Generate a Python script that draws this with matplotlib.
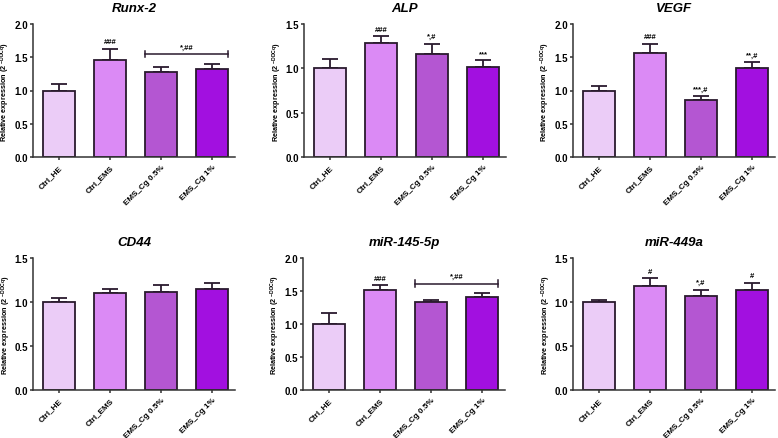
import matplotlib
matplotlib.use("Agg")
import matplotlib.pyplot as plt
import numpy as np

plt.rcParams['font.family'] = ['Liberation Sans', 'DejaVu Sans']
plt.rcParams['font.weight'] = 'bold'
plt.rcParams['mathtext.fontset'] = 'custom'
plt.rcParams['mathtext.rm'] = 'Liberation Sans:bold'
plt.rcParams['mathtext.it'] = 'Liberation Sans:bold'
plt.rcParams['mathtext.bf'] = 'Liberation Sans:bold'
plt.rcParams['mathtext.default'] = 'rm'

groups = ["Ctrl_HE", "Ctrl_EMS", "EMS_Cg 0.5%", "EMS_Cg 1%"]
colors = ["#EBCCF7", "#DB8AF5", "#B456D2", "#A210E0"]

titles = ["Runx-2", "ALP", "VEGF", "CD44", "miR-145-5p", "miR-449a"]
ymax = [2.0, 1.5, 2.0, 1.5, 2.0, 1.5]

runx2_mean = [1.00, 1.46, 1.28, 1.32]
runx2_err = [0.10, 0.17, 0.07, 0.08]
runx2_sig = ["", "###", "", ""]

alp_mean = [1.00, 1.29, 1.16, 1.02]
alp_err = [0.10, 0.07, 0.12, 0.07]
alp_sig = ["", "###", "*,#", "***"]

vegf_mean = [1.00, 1.57, 0.86, 1.34]
vegf_err = [0.07, 0.13, 0.05, 0.09]
vegf_sig = ["", "###", "***,#", "**,#"]

cd44_mean = [1.00, 1.10, 1.11, 1.15]
cd44_err = [0.04, 0.05, 0.08, 0.07]
cd44_sig = ["", "", "", ""]

mir145_mean = [1.00, 1.51, 1.33, 1.41]
mir145_err = [0.17, 0.08, 0.04, 0.06]
mir145_sig = ["", "###", "", ""]

mir449_mean = [1.00, 1.18, 1.07, 1.14]
mir449_err = [0.02, 0.09, 0.07, 0.08]
mir449_sig = ["", "#", "*,#", "#"]

# bracket annotations: (panel index, label, y level)
bracket_panels = [0, 4]
bracket_labels = ["*,##", "*,##"]
bracket_levels = [1.55, 1.61]

means = [runx2_mean, alp_mean, vegf_mean, cd44_mean, mir145_mean, mir449_mean]
errs = [runx2_err, alp_err, vegf_err, cd44_err, mir145_err, mir449_err]
sigs = [runx2_sig, alp_sig, vegf_sig, cd44_sig, mir145_sig, mir449_sig]

W, H = 778, 439
fig = plt.figure(figsize=(W / 100, H / 100), dpi=100)

lefts = [33, 304, 573, 33, 303, 573]
tops = [25, 25, 25, 259, 259, 259]
bottoms = [158, 158, 158, 391, 391, 391]
axw = 202

edge = "#2a1a2e"
x = np.arange(len(groups))
bw = 0.63

for i in range(6):
    ax = fig.add_axes([lefts[i] / W, 1 - bottoms[i] / H, axw / W, (bottoms[i] - tops[i]) / H])
    ax.bar(x, means[i], width=bw, color=colors, edgecolor=edge, linewidth=1.3, zorder=2)
    ax.errorbar(x, means[i], yerr=[np.zeros(4), errs[i]], fmt='none', ecolor=edge,
                elinewidth=1.3, capsize=5.5, capthick=1.3, zorder=1)
    ax.set_xlim(-0.51, 3.45)
    ax.set_ylim(0, ymax[i])
    ax.set_yticks(np.arange(0, ymax[i] + 0.01, 0.5))
    ax.set_yticklabels([f"{v:.1f}" for v in np.arange(0, ymax[i] + 0.01, 0.5)], fontsize=7, fontweight='bold')
    ax.set_xticks(x)
    ax.set_xticklabels(groups, rotation=45, ha='right', rotation_mode='anchor', fontsize=5.9, fontweight='bold')
    for s in ['top', 'right']:
        ax.spines[s].set_visible(False)
    for s in ['left', 'bottom']:
        ax.spines[s].set_linewidth(1.1)
        ax.spines[s].set_color('#333333')
    ax.tick_params(axis='y', length=2.5, width=1.1, color='#333333', pad=1)
    ax.tick_params(axis='x', length=2.5, width=1.1, color='#333333', pad=2)
    ax.set_title(titles[i], fontsize=9.5, fontweight='bold', fontstyle='italic', pad=9)
    ax.set_ylabel(r"Relative expression (2 $^{-DDCq}$)", fontsize=5.2, fontweight='bold', labelpad=1.5)
    for j in range(4):
        if sigs[i][j]:
            ax.annotate(sigs[i][j], (x[j], means[i][j] + errs[i][j]), xytext=(0, 2.5),
                        textcoords='offset points', ha='center', va='bottom', fontsize=5.5,
                        fontweight='bold')

for k, p in enumerate(bracket_panels):
    ax = fig.axes[p]
    x0, x1 = x[2] - bw / 2, x[3] + bw / 2
    yl = bracket_levels[k]
    ax.plot([x0, x1], [yl, yl], color=edge, lw=1.1)
    ax.plot([x0, x0], [yl - 0.05, yl + 0.05], color=edge, lw=1.1)
    ax.plot([x1, x1], [yl - 0.05, yl + 0.05], color=edge, lw=1.1)
    ax.annotate(bracket_labels[k], ((x0 + x1) / 2, yl), xytext=(0, 2.5), textcoords='offset points',
                ha='center', va='bottom', fontsize=5.5, fontweight='bold')

fig.savefig("out.png", dpi=100)
